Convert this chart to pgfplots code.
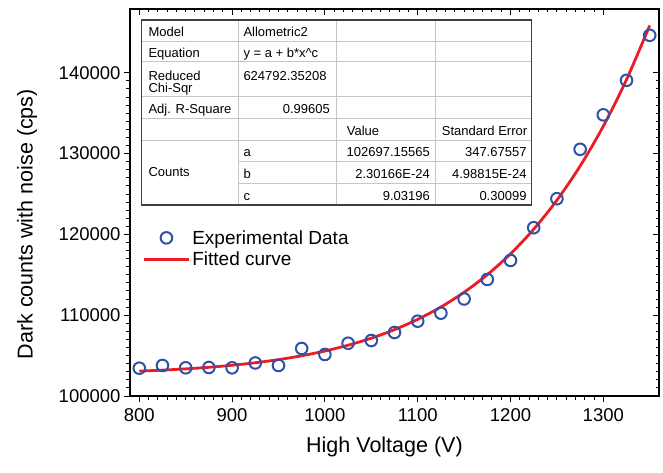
\documentclass[border=0pt]{standalone}
\usepackage{fontspec}
\setmainfont{Liberation Sans}
\usepackage{pgfplots}
\pgfplotsset{compat=1.18}
\definecolor{mblue}{RGB}{46,82,165}
\definecolor{fred}{RGB}{237,28,36}
\newcommand{\tabfont}{\fontsize{13}{15}\selectfont}
\begin{document}
\begin{tikzpicture}
\begin{axis}[
  scale only axis, width=529pt, height=387pt,
  xmin=790, xmax=1360, ymin=100000, ymax=147900,
  xtick={800,900,1000,1100,1200,1300}, ytick={100000,110000,120000,130000,140000},
  xticklabels={800,900,1000,1100,1200,1300},
  yticklabels={100000,110000,120000,130000,140000},
  minor x tick num=9, minor y tick num=9,
  xtick pos=left, ytick pos=left, tick align=outside,
  major tick length=6pt, minor tick length=3.5pt,
  tick style={black, line width=1pt},
  axis line style={line width=1.3pt},
  scaled y ticks=false, scaled x ticks=false,
  ticklabel style={font=\fontsize{18.5}{22}\selectfont},
  xticklabel style={yshift=-3pt},
  xlabel={High Voltage (V)}, ylabel={Dark counts with noise (cps)},
  label style={font=\fontsize{21.5}{26}\selectfont},
  xlabel style={at={(axis description cs:0.481,-0.106)}, anchor=north, inner sep=0pt},
  ylabel style={at={(axis description cs:-0.1947,0.444)}, anchor=center, inner sep=0pt},
  legend style={at={(axis description cs:0.0233,0.434)}, anchor=north west, draw=none, fill=none, inner sep=0pt, font=\fontsize{19}{22}\selectfont, row sep=2pt},
  legend cell align=left,
  legend image code/.code={\draw[mark repeat=2,mark phase=2,#1] plot coordinates {(0pt,0pt) (22.5pt,0pt) (45pt,0pt)};},
]
\addplot[only marks, mark=o, mark size=5.8pt, mblue, line width=2pt] coordinates {
(800,103440) (825,103780) (850,103490) (875,103530) (900,103490) (925,104090)
(950,103780) (975,105880) (1000,105140) (1025,106530) (1050,106870) (1075,107860)
(1100,109260) (1125,110250) (1150,112010) (1175,114430) (1200,116780) (1225,120830)
(1250,124420) (1275,130530) (1300,134800) (1325,139070) (1350,144640)
};
\addlegendentry{Experimental Data}
\addplot[fred, line width=2.8pt, smooth, no markers] coordinates {
(800,103080) (825,103202) (850,103359) (875,103557) (900,103806) (925,104117)
(950,104504) (975,104982) (1000,105568) (1025,106285) (1050,107157) (1075,108213)
(1100,109486) (1125,111013) (1150,112840) (1175,115014) (1200,117595) (1225,120643)
(1250,124238) (1275,128460) (1300,133397) (1325,139163) (1350,145862)
};
\addlegendentry{Fitted curve}
\end{axis}
\begin{axis}[
  scale only axis, width=529pt, height=387pt,
  xmin=790, xmax=1360, ymin=100000, ymax=147900,
  xtick={800,900,1000,1100,1200,1300}, ytick={100000,110000,120000,130000,140000},
  minor x tick num=9, minor y tick num=9,
  xtick pos=right, ytick pos=right, tick align=inside,
  major tick length=6pt, minor tick length=3.5pt,
  tick style={black, line width=1pt},
  axis line style={line width=1.3pt},
  xticklabels={}, yticklabels={},
  scaled y ticks=false, scaled x ticks=false,
]
\addplot[draw=none] coordinates {(800,100000)};
\end{axis}
% parameter table
\fill[white] (11.7pt,191pt) rectangle (401.7pt,376pt);
\begin{scope}[gray!45, line width=0.9pt]
\draw (108.3pt,191pt) -- (108.3pt,376pt);
\draw (206.7pt,191pt) -- (206.7pt,376pt);
\draw (305pt,191pt) -- (305pt,376pt);
\foreach \yy in {354.3,334.3,299.3,277.7,256} {\draw (11.7pt,\yy pt) -- (401.7pt,\yy pt);}
\foreach \yy in {234.3,212.7} {\draw (108.3pt,\yy pt) -- (401.7pt,\yy pt);}
\end{scope}
\draw[black!75, line width=1.2pt] (11.7pt,191pt) rectangle (401.7pt,376pt);
\begin{scope}[every node/.style={inner sep=0pt, font=\tabfont}]
\node[anchor=base west] at (18.3pt,359.3pt) {Model};
\node[anchor=base west] at (113.3pt,359.3pt) {Allometric2};
\node[anchor=base west] at (18.3pt,338pt) {Equation};
\node[anchor=base west] at (113.3pt,338pt) {y = a + b*x\^{}c};
\node[anchor=base west] at (18.3pt,316pt) {Reduced};
\node[anchor=base west] at (18.3pt,303.5pt) {Chi-Sqr};
\node[anchor=base west] at (113.3pt,316pt) {624792.35208};
\node[anchor=base west] at (18.3pt,282.2pt) {Adj. R-Square};
\node[anchor=base east] at (200pt,282.2pt) {0.99605};
\node[anchor=base west] at (216.7pt,261pt) {Value};
\node[anchor=base west] at (311.7pt,261pt) {Standard Error};
\node[anchor=base west] at (18.3pt,219.3pt) {Counts};
\node[anchor=base west] at (113.3pt,239.3pt) {a};
\node[anchor=base west] at (113.3pt,217.7pt) {b};
\node[anchor=base west] at (113.3pt,196pt) {c};
\node[anchor=base east] at (300pt,239.3pt) {102697.15565};
\node[anchor=base east] at (300pt,217.7pt) {2.30166E-24};
\node[anchor=base east] at (300pt,196pt) {9.03196};
\node[anchor=base east] at (396.7pt,239.3pt) {347.67557};
\node[anchor=base east] at (396.7pt,217.7pt) {4.98815E-24};
\node[anchor=base east] at (396.7pt,196pt) {0.30099};
\end{scope}
\pgfresetboundingbox
\path (-130pt,-76pt) rectangle (533pt,396pt);
\end{tikzpicture}
\end{document}
